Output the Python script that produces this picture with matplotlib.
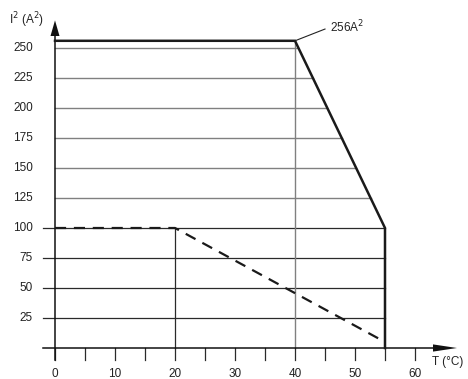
import matplotlib
matplotlib.use("Agg")
import matplotlib.pyplot as plt
import numpy as np

plt.rcParams['font.family'] = ['Liberation Sans', 'DejaVu Sans']

# data
limit_T = [0, 40, 55, 55]
limit_I2 = [256, 256, 100, 0]
dash_T = [0, 20, 55]
dash_I2 = [100, 100, 5]
y_ticks = [25, 50, 75, 100, 125, 150, 175, 200, 225, 250]
x_tick_labels = [0, 10, 20, 30, 40, 50, 60]
x_minor = list(range(0, 65, 5))

fig = plt.figure(figsize=(4.68, 3.79), dpi=100)
ax = fig.add_axes([0, 0, 1, 1])
ax.set_xlim(-55/6, 413/6)
ax.set_ylim(-31/1.2, 348/1.2)
ax.axis('off')

def curve_T(v):
    # position on the limit curve for level v (between 100 and 256)
    return np.interp(-v, [-limit_I2[1], -limit_I2[2]], [limit_T[1], limit_T[2]])

grey = '#808080'
dark = '#2a2a2a'
for v in y_ticks:
    if v <= 100:
        ax.plot([-2, 55], [v, v], color=dark, lw=0.9, zorder=2)
    else:
        ax.plot([0, curve_T(v)], [v, v], color=grey, lw=1.0, zorder=2)
    ax.text(-3.7, v, str(v), ha='right', va='center', fontsize=8.5, color='#222')

# vertical guides
ax.plot([20, 20], [0, 100], color=dark, lw=0.9, zorder=2)
ax.plot([40, 40], [0, 256], color=grey, lw=1.0, zorder=2)

# ticks
for t in x_minor:
    ax.plot([t, t], [-10, 0], color=dark, lw=0.9, zorder=2)
for t in x_tick_labels:
    ax.text(t, -21.5, str(t), ha='center', va='center', fontsize=8.5, color='#222')

# axes lines with arrows
ax.plot([-2, 64], [0, 0], color='#111', lw=1.1, zorder=3)
ax.plot([0, 0], [-10, 262], color='#111', lw=1.1, zorder=3)
ax.fill([63, 67, 63], [-3, 0, 3], color='#111', lw=0, zorder=4)
ax.fill([-0.75, 0, 0.75], [260, 273, 260], color='#111', lw=0, zorder=4)

# curves
ax.plot(limit_T, limit_I2, color='#1a1a1a', lw=1.8, zorder=5, solid_joinstyle='miter')
ax.plot(dash_T, dash_I2, color='#1a1a1a', lw=1.6, ls=(0, (5, 3.5)), zorder=5)

# annotation
ax.plot([40, 45], [256, 265.8], color='#222', lw=0.8, zorder=5)
ax.text(45.8, 267.5, '256A$^2$', ha='left', va='center', fontsize=8.5, color='#222')

ax.text(-7.6, 273, 'I$^2$ (A$^2$)', ha='left', va='center', fontsize=8.5, color='#222')
ax.text(62.8, -11.7, 'T (°C)', ha='left', va='center', fontsize=8.5, color='#222')

fig.savefig('out.png', dpi=100)
